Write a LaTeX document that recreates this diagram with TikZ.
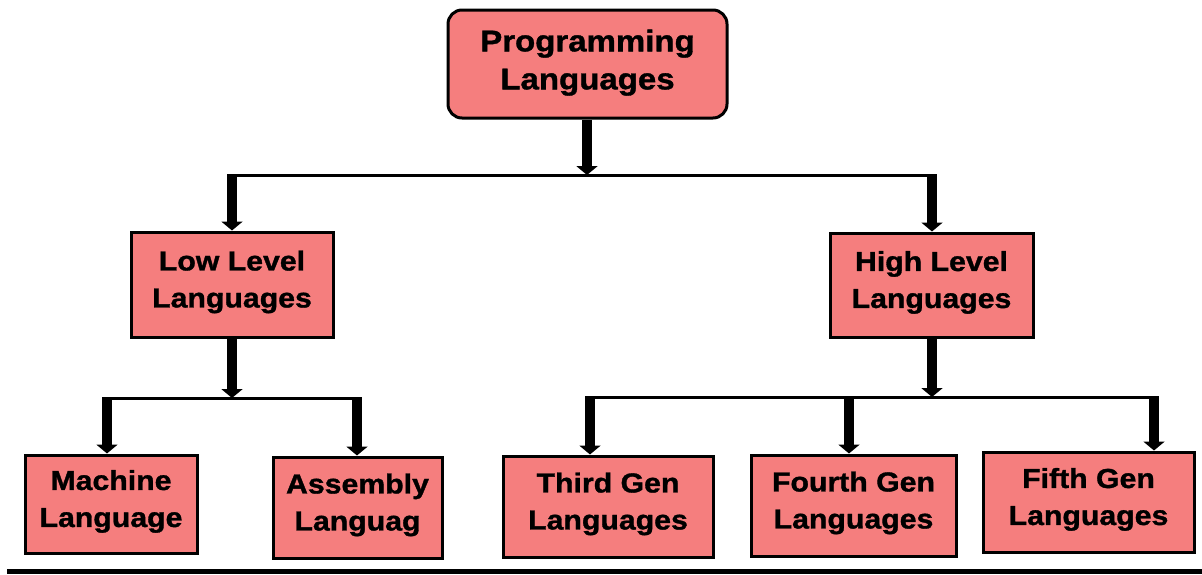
\documentclass[tikz,border=0pt]{standalone}
\usepackage{fontspec}
\setmainfont{Liberation Sans}[FakeStretch=1.1,FakeBold=1.2]
\usetikzlibrary{arrows.meta}
\definecolor{boxfill}{RGB}{245,126,126}
\tikzset{
  box/.style={draw=black, line width=3pt, fill=boxfill, rectangle, align=center,
    inner sep=0pt, text depth=11pt, font=\bfseries\fontsize{27.5}{37}\selectfont},
  topbox/.style={box, rounded corners=14pt, text depth=9pt, font=\bfseries\fontsize{30}{38}\selectfont},
  stem/.style={draw=black, line width=10pt, -{Triangle[width=21pt,length=9pt]}},
  bar/.style={draw=black, line width=3pt},
}
\begin{document}
\begin{tikzpicture}[x=1pt,y=-1pt]
\useasboundingbox (0,0) rectangle (1202,574);
% nodes
\node[topbox, minimum width=279pt, minimum height=108pt] (top) at (587.5,64) {Programming\\Languages};
\node[box, minimum width=202pt, minimum height=105pt] (low) at (232,284.5) {Low Level\\Languages};
\node[box, minimum width=203pt, minimum height=104pt] (high) at (931.5,285) {High Level\\Languages};
\node[box, minimum width=172pt, minimum height=98pt] (mach) at (111,504) {Machine\\Language};
\node[box, minimum width=169pt, minimum height=101pt] (asm) at (357.5,507.5) {Assembly\\Languag};
\node[box, minimum width=210pt, minimum height=101pt] (third) at (608,506.5) {Third Gen\\Languages};
\node[box, minimum width=205pt, minimum height=101pt] (fourth) at (853.5,505.5) {Fourth Gen\\Languages};
\node[box, minimum width=211pt, minimum height=100pt] (fifth) at (1088.5,502) {Fifth Gen\\Languages};
% junction coordinates
\coordinate (j1) at (587,175);
\coordinate (j1l) at (227,175);
\coordinate (j1r) at (937,175);
\coordinate (s1l) at (232,175);
\coordinate (s1r) at (932,175);
\coordinate (j2) at (232,398);
\coordinate (j2l) at (102,398);
\coordinate (j2r) at (362,398);
\coordinate (s2a) at (107,398);
\coordinate (s2b) at (357,398);
\coordinate (j3) at (932,397);
\coordinate (j3l) at (585,397);
\coordinate (j3r) at (1159,397);
\coordinate (s3a) at (590,397);
\coordinate (s3b) at (849,397);
\coordinate (s3c) at (1154,397);
% level 1
\draw[bar] (j1l) -- (j1r);
\draw[stem] (top.south -| j1) -- (j1);
\draw[stem] (s1l) -- (s1l |- low.north);
\draw[stem] (s1r) -- (s1r |- high.north);
% level 2 left
\draw[bar] (j2l) -- (j2r);
\draw[stem] (low.south -| j2) -- (j2);
\draw[stem] (s2a) -- (s2a |- mach.north);
\draw[stem] (s2b) -- (s2b |- asm.north);
% level 2 right
\draw[bar] (j3l) -- (j3r);
\draw[stem] (high.south -| j3) -- (j3);
\draw[stem] (s3a) -- (s3a |- third.north);
\draw[stem] (s3b) -- (s3b |- fourth.north);
\draw[stem] (s3c) -- (s3c |- fifth.north);
% bottom rule
\draw[line width=5pt] (7,571) -- (1202,571);
\end{tikzpicture}
\end{document}
